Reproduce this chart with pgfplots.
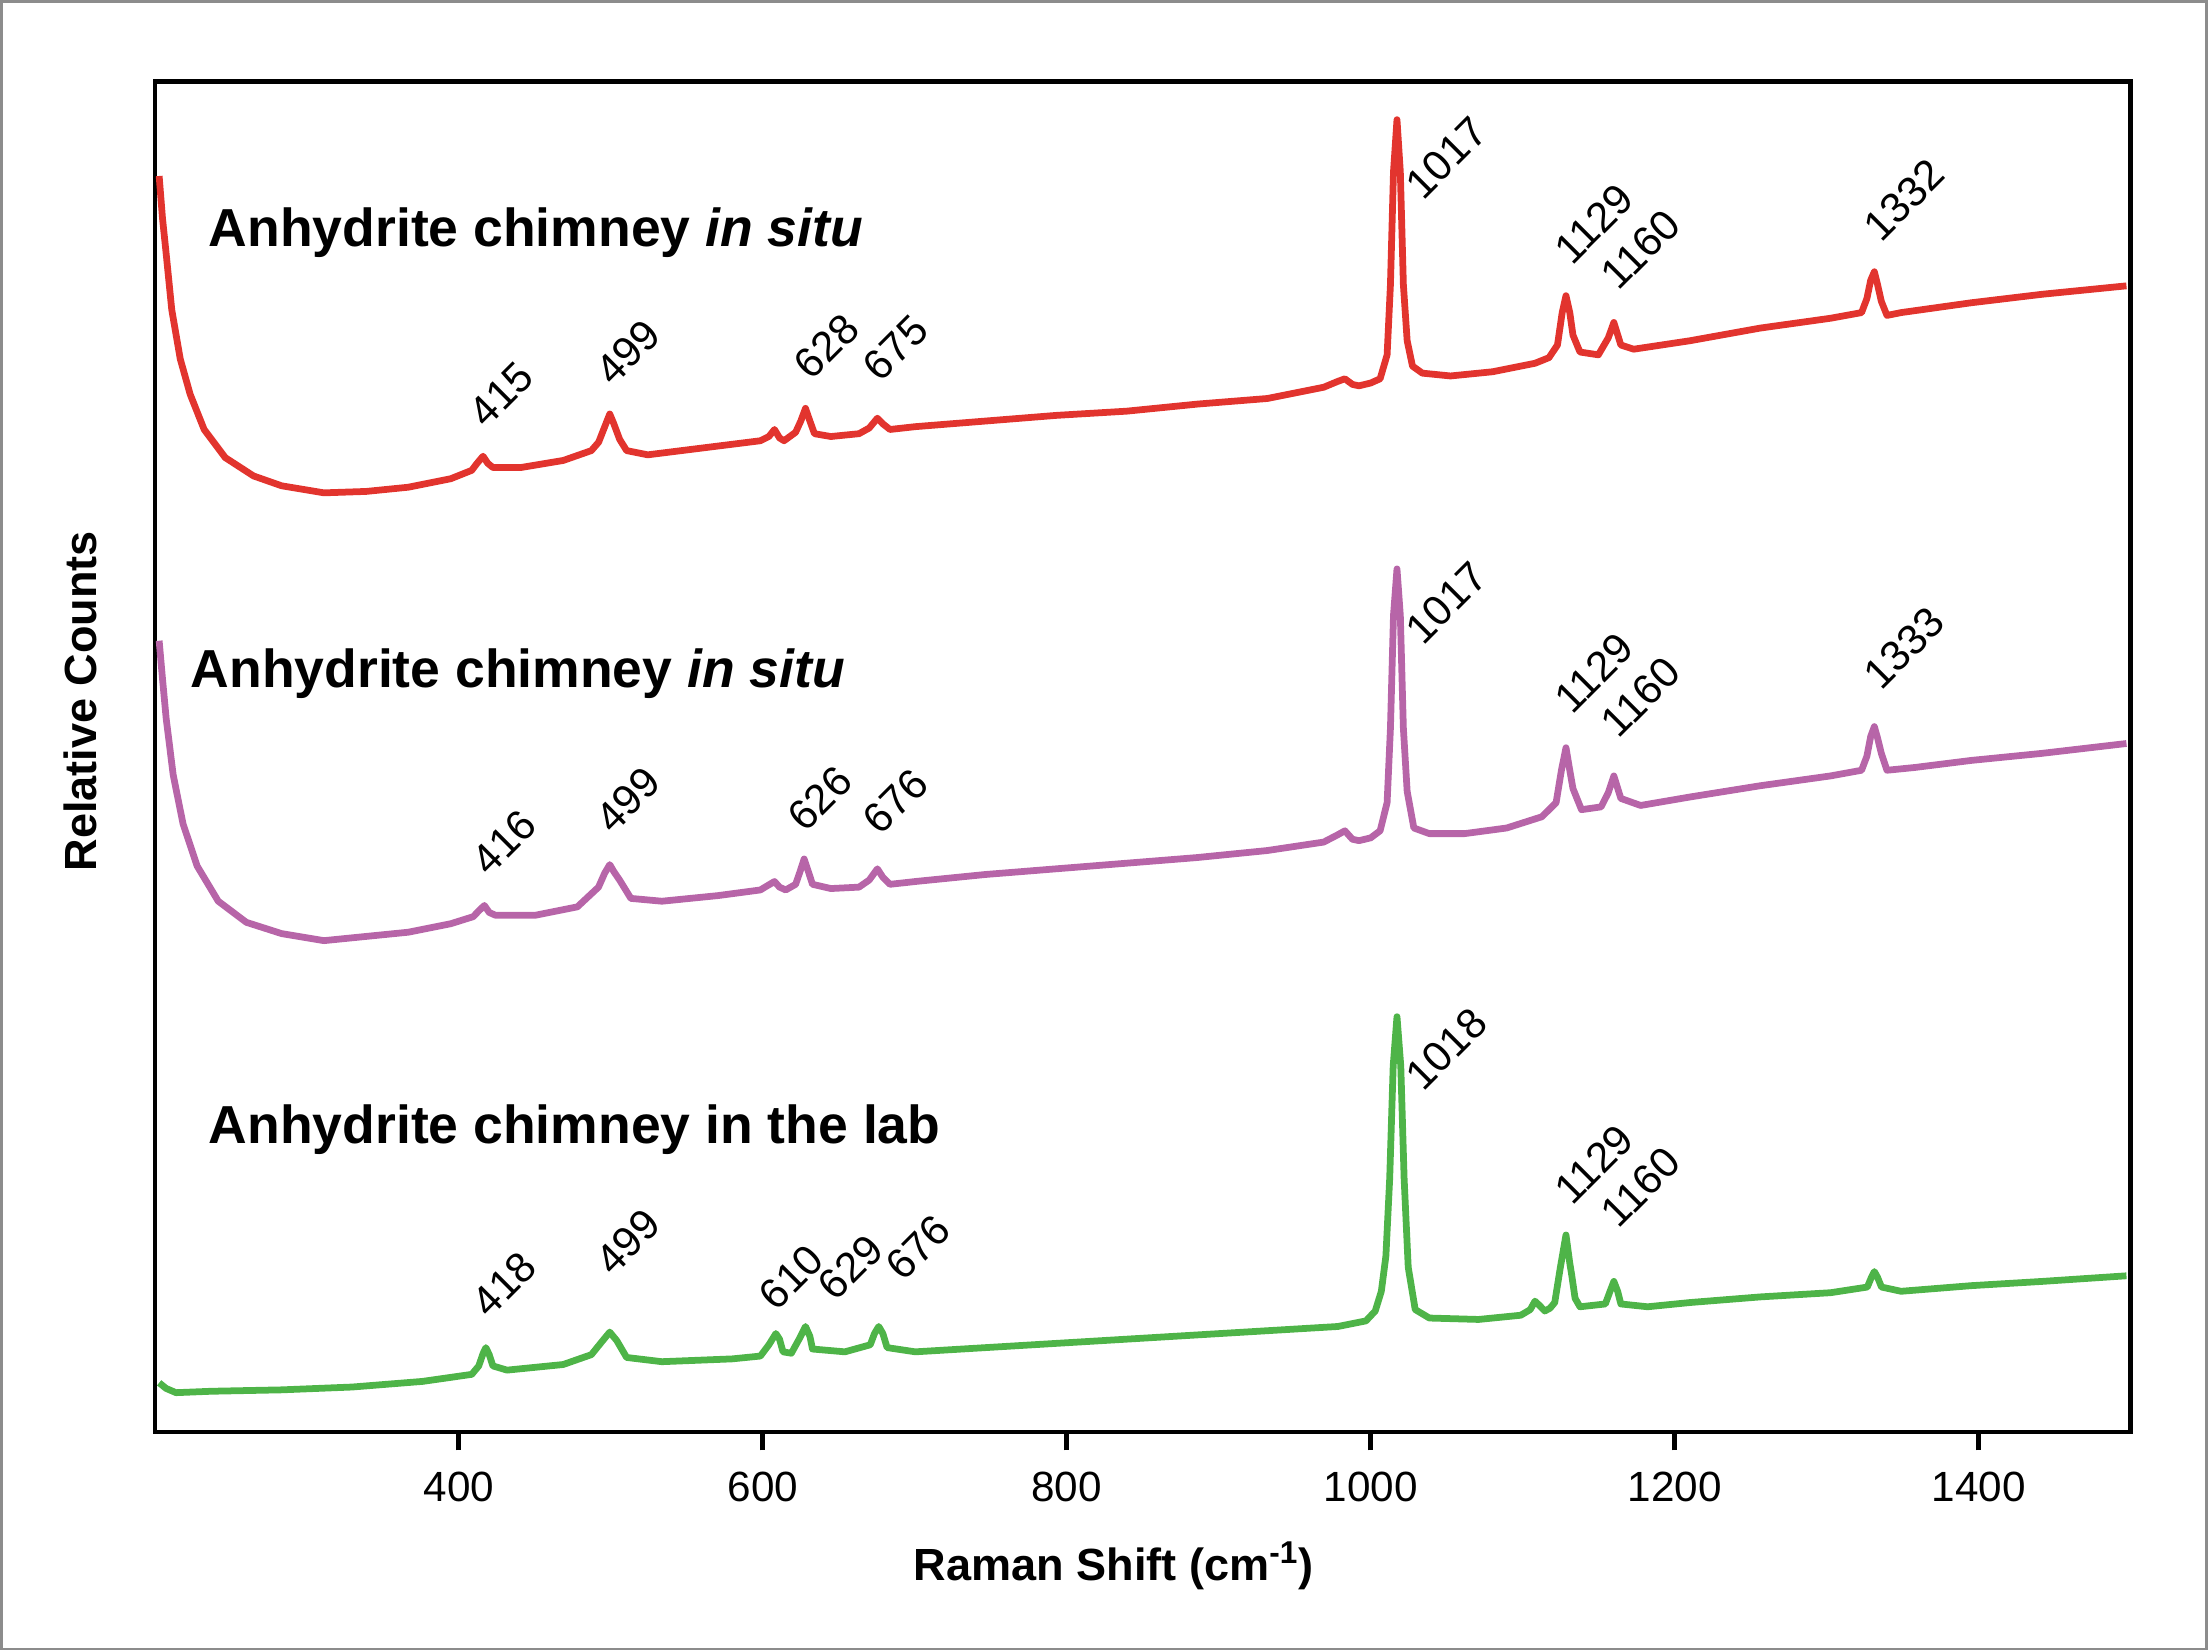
\documentclass[border=0pt]{standalone}
\usepackage{fontspec}
\setmainfont{Liberation Sans}
\usepackage{pgfplots}
\pgfplotsset{compat=1.18}
\definecolor{specred}{RGB}{226,52,46}
\definecolor{specpurple}{RGB}{183,101,168}
\definecolor{specgreen}{RGB}{78,180,72}
\newcommand\lbl{\fontsize{15}{17}\selectfont}
\newcommand\ttl{\fontsize{19}{22}\selectfont\bfseries}
\begin{document}
\begin{tikzpicture}
\path[use as bounding box] (-55pt,-77.5pt) rectangle (729pt,508.5pt);
\draw[line width=1pt, black!45] (-54.5pt,-77pt) rectangle (728.5pt,508pt);
\begin{axis}[
  at={(0,0)}, anchor=south west, scale only axis,
  width=701.5pt, height=479.5pt,
  xmin=200, xmax=1500, ymin=0, ymax=959,
  axis line style={line width=1.7pt},
  xtick={400,600,...,1400},
  xtick pos=bottom, xtick align=outside,
  major tick length=6.5pt,
  tick style={black, line width=1.8pt},
  ytick=\empty,
  xticklabel style={font=\lbl, yshift=-4pt},
  /pgf/number format/assume math mode=true,
  /pgf/number format/1000 sep={},
  clip=true,
]
% red spectrum (top)
\addplot[specred, line width=2.4pt, line join=round] coordinates {
(202.8,892) (205,862) (207.4,837) (211.1,797) (216.7,762) (223.2,737) (232.4,712)
(246.3,692) (264.9,679) (283.4,672) (311.2,667) (339,668) (366.8,671) (394.6,677)
(408.5,683) (412,688) (415.9,693) (419,688) (422.4,685) (440.9,685) (468.7,690)
(487.2,697) (492,703) (496,714) (499.3,723) (502,716) (505.8,705) (510.4,697)
(524.3,694) (561.4,699) (598.4,704) (604,707) (607.7,712) (611,706) (614,704)
(621.6,710) (625,718) (628.1,727) (631,718) (634,709) (644.8,707) (654,708)
(663.3,709) (670,713) (675.4,720) (679,716) (683.7,712) (700.4,714) (746.7,718)
(793,722) (839.4,725) (885.7,730) (932,734) (969.1,742) (978,746) (983,748)
(988,744) (992.3,743) (1000,745) (1006.2,748) (1010.8,765) (1013,815) (1015,895)
(1017.3,932) (1019.5,895) (1021.5,815) (1024,775) (1027.5,757) (1034,752)
(1052.5,750) (1080.3,753) (1108.1,759) (1117.3,763) (1122.9,772) (1126,795)
(1128.5,807) (1131,795) (1133.1,779) (1137.7,767) (1149.8,765) (1156.3,777)
(1160,788) (1164.6,772) (1173,769) (1210,775) (1256.3,784) (1302.7,791)
(1323,795) (1326.5,805) (1329,818) (1331.4,824) (1333.5,815) (1336,803)
(1339.7,793) (1349,795) (1395.3,802) (1441.7,808) (1497.3,814)
};
% purple spectrum (middle)
\addplot[specpurple, line width=2.4pt, line join=round] coordinates {
(202.8,562) (205,535) (207.4,507) (212,467) (218.5,432) (227.8,402) (241.7,377)
(260.2,362) (283.4,354) (311.2,349) (339,352) (366.8,355) (394.6,361) (409.4,366)
(413,370) (416.8,374) (420,369) (424.2,367) (450.2,367) (478,373) (491.9,387)
(496,397) (499.3,403) (502,398) (505.8,392) (513.2,379) (533.6,377) (570.6,381)
(598.4,385) (603,388) (607.7,391) (611,387) (615.1,385) (621.6,389) (624.5,398)
(627.2,407) (630,398) (632.7,389) (644.8,386) (663.3,387) (670,392) (675.4,400)
(679,394) (683.7,389) (700.4,391) (746.7,396) (793,400) (839.4,404) (885.7,408)
(932,413) (969.1,419) (978,424) (983,427) (988,421) (992.3,420) (1000,422)
(1006.2,427) (1010.8,447) (1013,500) (1015,580) (1017.3,613) (1019.5,580)
(1021.5,500) (1024,455) (1028.4,429) (1038.6,425) (1061.8,425) (1089.5,429)
(1112.7,437) (1122,447) (1125.5,470) (1128.5,486) (1131,470) (1133.1,457)
(1138.7,442) (1151.6,444) (1156.3,454) (1160,466) (1164.6,450) (1177.6,445)
(1210,451) (1256.3,459) (1302.7,466) (1323,470) (1326.5,480) (1329,494)
(1331.4,501) (1333.5,493) (1336,482) (1339.7,470) (1358.3,472) (1395.3,477)
(1441.7,482) (1497.3,489)
};
% green spectrum (bottom)
\addplot[specgreen, line width=2.4pt, line join=round] coordinates {
(202.8,35) (207.4,31) (213.9,28) (237.1,29) (283.4,30) (329.7,32) (376.1,36)
(408.5,41) (413.1,47) (416,56) (417.8,60) (420,55) (422.4,47) (431.7,44)
(468.7,48) (487.2,55) (494.7,65) (499.3,71) (503.9,65) (510.4,53) (533.6,50)
(579.9,52) (598.4,54) (604,62) (608.6,70) (611,66) (613.3,57) (618.8,56)
(624.4,67) (628.1,75) (631,68) (632.7,59) (654,57) (670.7,62) (673.5,70)
(676.3,75) (679,70) (681.8,60) (700.4,57) (746.7,60) (793,63) (839.4,66)
(885.7,69) (932,72) (978.4,75) (996.9,79) (1003,86) (1007,100) (1010,125)
(1012.5,180) (1014.8,260) (1017.3,295) (1019.8,260) (1022,180) (1024.7,117)
(1029.3,87) (1038.6,81) (1071,80) (1098.8,83) (1105,87) (1108.1,93) (1111,90)
(1114.6,86) (1118,88) (1121.1,92) (1124.8,117) (1128.5,140) (1131,120)
(1132.2,112) (1134.5,95) (1137.7,89) (1154.4,91) (1157.5,100) (1160,107)
(1162.5,100) (1164.6,91) (1182.2,89) (1210,92) (1256.3,96) (1302.7,99)
(1326.8,103) (1329.5,110) (1331.4,114) (1333.5,110) (1336.1,103) (1349,100)
(1395.3,104) (1441.7,107) (1497.3,111)
};
% titles
\node[anchor=base west, inner sep=0pt, font=\ttl] at (axis cs:235.2,842) {Anhydrite chimney \textit{in situ}};
\node[anchor=base west, inner sep=0pt, font=\ttl] at (axis cs:223.2,529) {Anhydrite chimney \textit{in situ}};
\node[anchor=base west, inner sep=0pt, font=\ttl] at (axis cs:235.2,205) {Anhydrite chimney in the lab};
% red peak labels
\node[rotate=45, font=\lbl, inner sep=1pt] at (axis cs:427.9,737) {415};
\node[rotate=45, font=\lbl, inner sep=1pt] at (axis cs:511.3,767) {499};
\node[rotate=45, font=\lbl, inner sep=1pt] at (axis cs:642,771) {628};
\node[rotate=45, font=\lbl, inner sep=1pt] at (axis cs:687.4,770) {675};
\node[rotate=45, font=\lbl, inner sep=1pt] at (axis cs:1049.7,905) {1017};
\node[rotate=45, font=\lbl, inner sep=1pt] at (axis cs:1147,858) {1129};
\node[rotate=45, font=\lbl, inner sep=1pt] at (axis cs:1177.6,840) {1160};
\node[rotate=45, font=\lbl, inner sep=1pt] at (axis cs:1350.9,875) {1332};
% purple peak labels
\node[rotate=45, font=\lbl, inner sep=1pt] at (axis cs:429.8,419) {416};
\node[rotate=45, font=\lbl, inner sep=1pt] at (axis cs:511.3,449) {499};
\node[rotate=45, font=\lbl, inner sep=1pt] at (axis cs:637.4,450) {626};
\node[rotate=45, font=\lbl, inner sep=1pt] at (axis cs:687.4,448) {676};
\node[rotate=45, font=\lbl, inner sep=1pt] at (axis cs:1049.7,589) {1017};
\node[rotate=45, font=\lbl, inner sep=1pt] at (axis cs:1147,539) {1129};
\node[rotate=45, font=\lbl, inner sep=1pt] at (axis cs:1177.6,522) {1160};
\node[rotate=45, font=\lbl, inner sep=1pt] at (axis cs:1350.9,557) {1333};
% green peak labels
\node[rotate=45, font=\lbl, inner sep=1pt] at (axis cs:429.8,105) {418};
\node[rotate=45, font=\lbl, inner sep=1pt] at (axis cs:511.3,135) {499};
\node[rotate=45, font=\lbl, inner sep=1pt] at (axis cs:618.8,110) {610};
\node[rotate=45, font=\lbl, inner sep=1pt] at (axis cs:657.7,117) {629};
\node[rotate=45, font=\lbl, inner sep=1pt] at (axis cs:702.2,131) {676};
\node[rotate=45, font=\lbl, inner sep=1pt] at (axis cs:1049.7,272) {1018};
\node[rotate=45, font=\lbl, inner sep=1pt] at (axis cs:1147,190) {1129};
\node[rotate=45, font=\lbl, inner sep=1pt] at (axis cs:1177.6,174) {1160};
\end{axis}
\node[font=\fontsize{16}{19}\selectfont\bfseries] at (340.5pt,-47.5pt) {Raman Shift (cm\textsuperscript{-1})};
\node[rotate=90, font=\fontsize{16}{19}\selectfont\bfseries] at (-26.5pt,259.5pt) {Relative Counts};
\end{tikzpicture}
\end{document}
